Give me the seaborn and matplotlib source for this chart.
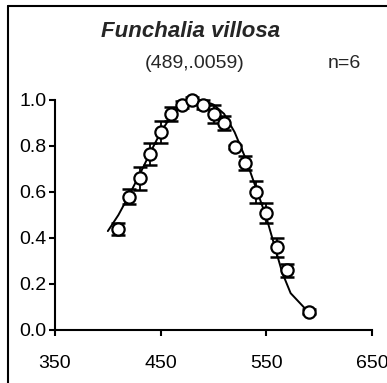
import matplotlib
matplotlib.use("Agg")
import matplotlib.pyplot as plt
import seaborn as sns
import pandas as pd
from matplotlib.lines import Line2D

# --- data ---
wavelength = [410, 420, 430, 440, 450, 460, 470, 480, 490, 500, 510, 520, 530, 540, 550, 560, 570, 590]
response = [0.44, 0.58, 0.66, 0.765, 0.86, 0.94, 0.98, 1.00, 0.98, 0.94, 0.90, 0.795, 0.725, 0.60, 0.51, 0.36, 0.26, 0.08]
error = [0.027, 0.034, 0.05, 0.047, 0.047, 0.03, 0.015, 0.015, 0.02, 0.04, 0.03, 0.01, 0.03, 0.047, 0.044, 0.042, 0.028, 0.01]

curve_wl = [400, 410, 420, 430, 440, 450, 460, 470, 480, 489, 500, 510, 520, 530, 540, 550, 560, 565, 573, 590]
curve_val = [0.43, 0.50, 0.585, 0.675, 0.77, 0.86, 0.93, 0.975, 0.997, 1.0, 0.98, 0.94, 0.86, 0.75, 0.62, 0.49, 0.33, 0.25, 0.16, 0.077]

title = "Funchalia villosa"
fit_label = "(489,.0059)"
n_label = "n=6"
xticks = [350, 450, 550, 650]
yticks = [0.0, 0.2, 0.4, 0.6, 0.8, 1.0]

sns.set_style("ticks")
plt.rcParams['font.family'] = ['Liberation Sans', 'DejaVu Sans']

fig = plt.figure(figsize=(3.87, 3.83), dpi=100)
ax = fig.add_axes([55/387, 53/383, (372-55)/387, 230/383])

pts = pd.DataFrame({"wl": wavelength, "r": response})
cur = pd.DataFrame({"wl": curve_wl, "v": curve_val})

sns.lineplot(data=cur, x="wl", y="v", ax=ax, color="black", linewidth=1.4, zorder=2)
ax.errorbar(wavelength, response, yerr=error, fmt="none", ecolor="black",
            elinewidth=1.3, capsize=5, capthick=1.8, zorder=3, clip_on=False)
sns.scatterplot(data=pts, x="wl", y="r", ax=ax, s=78, marker="o", facecolor="white",
                edgecolor="black", linewidth=1.6, zorder=4, clip_on=False)

ax.set_xlim(350, 650)
ax.set_ylim(0, 1.0)
ax.set_xticks(xticks)
ax.set_xticklabels([str(t) for t in xticks])
ax.set_yticks(yticks)
ax.set_yticklabels([f"{t:.1f}" for t in yticks])
ax.set_xlabel("")
ax.set_ylabel("")
for s in ["top", "right"]:
    ax.spines[s].set_visible(False)
for s in ["left", "bottom"]:
    ax.spines[s].set_linewidth(1.5)
    ax.spines[s].set_color("black")
ax.tick_params(axis="both", colors="black", labelsize=14, width=1.5, length=4, direction="out")
ax.tick_params(axis="x", pad=14)
ax.tick_params(axis="y", pad=2)

fig.text(191/387, 1 - 36.7/383, title, ha="center", va="baseline",
         fontsize=16, fontweight="bold", fontstyle="italic")
fig.text(195/387, 1 - 68/383, fit_label, ha="center", va="baseline", fontsize=14)
fig.text(344/387, 1 - 68/383, n_label, ha="center", va="baseline", fontsize=14)

# frame (top and left visible in the reference)
fig.add_artist(Line2D([8/387, 8/387], [0, 1 - 6/383], transform=fig.transFigure, color="black", linewidth=1.5))
fig.add_artist(Line2D([8/387, 1], [1 - 6/383, 1 - 6/383], transform=fig.transFigure, color="black", linewidth=1.5))

fig.savefig("out.png", dpi=100)
